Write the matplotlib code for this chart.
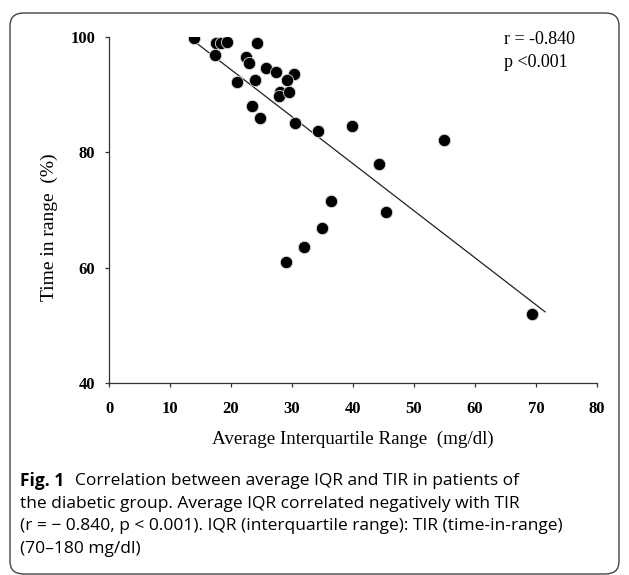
import numpy as np
import matplotlib.pyplot as plt
from matplotlib.patches import FancyBboxPatch

# average IQR (mg/dl) and time in range (%) per patient
iqr = [13.9, 17.6, 18.4, 19.3, 24.3, 17.4, 22.4, 22.9, 25.7, 27.3,
       30.4, 29.2, 21.0, 23.9, 28.1, 27.8, 29.5, 23.4, 24.8, 30.5,
       34.2, 39.8, 55.0, 44.3, 36.4, 45.4, 34.9, 31.9, 29.0, 69.3]
tir = [99.8, 99.0, 99.0, 99.1, 99.0, 96.8, 96.5, 95.5, 94.7, 94.0,
       93.6, 92.5, 92.2, 92.5, 90.5, 89.7, 90.4, 88.0, 86.0, 85.0,
       83.7, 84.6, 82.2, 77.9, 71.6, 69.7, 66.9, 63.6, 61.0, 52.0]

x_ticks = [0, 10, 20, 30, 40, 50, 60, 70, 80]
y_ticks = [40, 60, 80, 100]

stats_lines = ["r = -0.840", "p <0.001"]
caption_bold = "Fig. 1"
caption_lines = [
    "Correlation between average IQR and TIR in patients of",
    "the diabetic group. Average IQR correlated negatively with TIR",
    "(r = \u2212 0.840, p < 0.001). IQR (interquartile range): TIR (time-in-range)",
    "(70\u2013180 mg/dl)",
]

serif = ["Liberation Serif", "DejaVu Serif"]
sans = ["Open Sans", "DejaVu Sans"]

fig = plt.figure(figsize=(6.29, 5.75), dpi=100)
ax = fig.add_axes([0.1733, 0.3339, 0.7757, 0.6018])

x = np.array(iqr)
y = np.array(tir)

# least squares line
slope, intercept = np.polyfit(x, y, 1)
xl = np.array([x.min(), 71.5])
ax.plot(xl, slope * xl + intercept, color="#222222", lw=0.9, zorder=2)

ax.scatter(x, y, s=78, color="black", edgecolors="#d8d8d8",
           linewidths=0.6, zorder=3)

ax.set_xlim(0, 80)
ax.set_ylim(40, 100)
ax.set_xticks(x_ticks)
ax.set_yticks(y_ticks)
ax.spines["top"].set_visible(False)
ax.spines["right"].set_visible(False)
for s in ["left", "bottom"]:
    ax.spines[s].set_linewidth(0.9)
    ax.spines[s].set_color("#333333")
ax.tick_params(axis="both", direction="out", length=3, width=0.9,
               colors="#333333", labelcolor="black")
ax.tick_params(axis="x", pad=10)
ax.tick_params(axis="y", pad=7)
for lab in ax.get_xticklabels() + ax.get_yticklabels():
    lab.set_fontfamily(serif)
    lab.set_fontweight("bold")
    lab.set_fontsize(12)

ax.set_xlabel("Average Interquartile Range  (mg/dl)", fontfamily=serif,
              fontsize=13.7)
ax.xaxis.set_label_coords(0.5, -0.138)
ax.set_ylabel("Time in range  (%)", fontfamily=serif, fontsize=14)
ax.yaxis.set_label_coords(-0.105, 0.45)

# r and p in the top right corner
for i, line in enumerate(stats_lines):
    ax.text(0.81, 0.992 - i * 0.066, line, transform=ax.transAxes,
            fontfamily=serif, fontsize=13, va="center", ha="left")

# caption below the chart
y0 = 1 - 481 / 575
dy = 22.6 / 575
fig.text(20 / 629, y0, caption_bold, fontfamily=sans, fontweight="bold",
         fontsize=12.5, va="center", ha="left")
fig.text(75 / 629, y0, caption_lines[0], fontfamily=sans, fontsize=12.5,
         va="center", ha="left")
for i, line in enumerate(caption_lines[1:], start=1):
    fig.text(20 / 629, y0 - i * dy, line, fontfamily=sans, fontsize=12.5,
             va="center", ha="left")

# rounded frame round the figure
frame = FancyBboxPatch((10 / 629, 1 / 575), 609 / 629, 561 / 575,
                       boxstyle="round,pad=0,rounding_size=0.022",
                       transform=fig.transFigure, fill=False,
                       edgecolor="#444444", lw=1.0)
fig.patches.append(frame)

fig.savefig("out.png", dpi=100)
